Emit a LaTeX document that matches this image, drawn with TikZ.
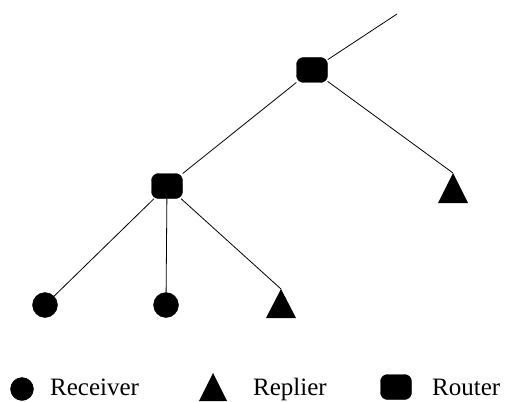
\documentclass[tikz,border=0pt]{standalone}
\usepackage{fontspec}
\setmainfont{Liberation Serif}
\tikzset{
  router/.style={draw, fill=black, rounded corners=7pt, minimum width=31pt, minimum height=25pt, inner sep=0pt},
  receiver/.style={draw, fill=black, circle, minimum size=25pt, inner sep=0pt},
  link/.style={line width=0.8pt},
  legendtext/.style={anchor=base west, inner sep=0pt, font=\fontsize{25}{30}\selectfont}
}
% filled triangle hanging below its apex coordinate: #2 half base, #3 height
\newcommand{\replierat}[3]{\fill (#1) -- ++(#2,#3) -- ++(-2*#2,0) -- cycle;}
\begin{document}
\begin{tikzpicture}[x=1pt, y=-1pt]
  \useasboundingbox (0,0) rectangle (505,401);
  % tree
  \coordinate (up) at (397,14);
  \node[router] (r1) at (312,70) {};
  \node[router] (r2) at (167,186) {};
  \coordinate (t1) at (453,173);
  \coordinate (t2) at (281,289);
  \node[receiver] (c1) at (45,305) {};
  \node[receiver] (c2) at (166,305) {};
  \replierat{t1}{15}{30}
  \replierat{t2}{15}{29}
  \draw[link] (up) -- (r1);
  \draw[link] (r1) -- (r2);
  \draw[link] (r1) -- (t1);
  \draw[link] (r2) -- (c1);
  \draw[link] (r2) -- (c2);
  \draw[link] (r2) -- (t2);
  % legend
  \node[receiver, minimum size=23pt] (lc) at (22,389) {};
  \node[legendtext] (lct) at (50,395) {Receiver};
  \coordinate (lt) at (213,373);
  \replierat{lt}{14}{28}
  \node[legendtext] (ltt) at (253,395) {Replier};
  \node[router, minimum width=31pt, minimum height=25pt] (lr) at (396,387) {};
  \node[legendtext] (lrt) at (432,395) {Router};
\end{tikzpicture}
\end{document}
